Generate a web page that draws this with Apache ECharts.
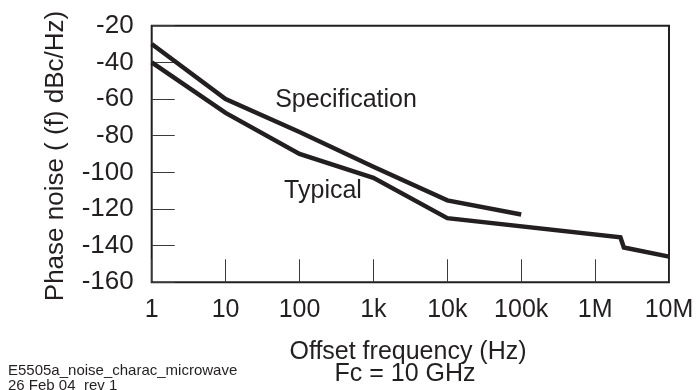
<!DOCTYPE html>
<html>
<head>
<meta charset="utf-8">
<script src="https://cdn.jsdelivr.net/npm/echarts@6/dist/echarts.min.js"></script>
<style>
  html, body { margin: 0; padding: 0; background: #ffffff; }
  #chart { width: 699px; height: 390px; }
</style>
</head>
<body>
<div id="chart"></div>
<script>
// ---- data ----
const xTickLabels = ['1', '10', '100', '1k', '10k', '100k', '1M', '10M'];
const specFreq  = [1, 10, 100, 1000, 10000, 100000];
const specPhase = [-30, -60, -78, -97, -115.3, -123];
const typFreq   = [1, 10, 100, 1000, 10000, 2.2e6, 2.45e6, 1e7];
const typPhase  = [-40, -67.6, -90, -103, -125, -135.4, -141, -146];
const yMin = -160, yMax = -20, yStep = 20;
const xMin = 1, xMax = 1e7;
const yAxisTitle = 'Phase noise ( (f) dBc/Hz)';
const xAxisTitle = 'Offset frequency (Hz)';
const carrierNote = 'Fc = 10 GHz';
const specLabel = 'Specification';
const typLabel = 'Typical';
const footer1 = 'E5505a_noise_charac_microwave';
const footer2 = '26 Feb 04  rev 1';

const ink = '#231f20';
const font = 'Liberation Sans, Arial, Helvetica, sans-serif';

const chart = echarts.init(document.getElementById('chart'), null, { renderer: 'canvas' });

function pairs(xs, ys) { return xs.map((x, i) => [x, ys[i]]); }

chart.setOption({
  animation: false,
  backgroundColor: '#ffffff',
  grid: {
    left: 151.7, right: 30, top: 25.7, bottom: 107.7,
    show: true, borderColor: ink, borderWidth: 2, backgroundColor: 'transparent'
  },
  xAxis: {
    type: 'log', logBase: 10, min: xMin, max: xMax, interval: 1,
    axisLine: { show: false },
    axisTick: { show: true, inside: true, length: 23, lineStyle: { color: '#3a3a3a', width: 1 } },
    splitLine: { show: false },
    axisLabel: {
      margin: 15, color: ink, fontFamily: font, fontSize: 25,
      showMinLabel: true, showMaxLabel: true,
      formatter: v => xTickLabels[Math.round(Math.log10(v))]
    }
  },
  yAxis: {
    type: 'value', min: yMin, max: yMax, interval: yStep,
    axisLine: { show: false },
    axisTick: { show: true, inside: true, length: 23, lineStyle: { color: '#3a3a3a', width: 1 } },
    splitLine: { show: false },
    axisLabel: {
      margin: 18, color: ink, fontFamily: font, fontSize: 26,
      showMinLabel: true, showMaxLabel: true
    }
  },
  series: [
    {
      name: specLabel, type: 'line', data: pairs(specFreq, specPhase),
      showSymbol: false, symbol: 'none',
      lineStyle: { color: ink, width: 4.5, join: 'miter' }
    },
    {
      name: typLabel, type: 'line', data: pairs(typFreq, typPhase),
      showSymbol: false, symbol: 'none',
      lineStyle: { color: ink, width: 4.5, join: 'miter' }
    }
  ],
  graphic: [
    { type: 'text', x: 56, y: 156, rotation: Math.PI / 2,
      style: { text: yAxisTitle, fill: ink, font: '26px ' + font, align: 'center', verticalAlign: 'middle' } },
    { type: 'text', x: 346, y: 100,
      style: { text: specLabel, fill: ink, font: '25px ' + font, align: 'center', verticalAlign: 'middle' } },
    { type: 'text', x: 323, y: 191,
      style: { text: typLabel, fill: ink, font: '25px ' + font, align: 'center', verticalAlign: 'middle' } },
    { type: 'text', x: 408, y: 352,
      style: { text: xAxisTitle, fill: ink, font: '25px ' + font, align: 'center', verticalAlign: 'middle' } },
    { type: 'text', x: 405, y: 374,
      style: { text: carrierNote, fill: ink, font: '25px ' + font, align: 'center', verticalAlign: 'middle' } },
    { type: 'text', x: 8, y: 371,
      style: { text: footer1, fill: ink, font: '15px ' + font, align: 'left', verticalAlign: 'middle' } },
    { type: 'text', x: 8, y: 386,
      style: { text: footer2, fill: ink, font: '15px ' + font, align: 'left', verticalAlign: 'middle' } }
  ]
});
</script>
</body>
</html>
